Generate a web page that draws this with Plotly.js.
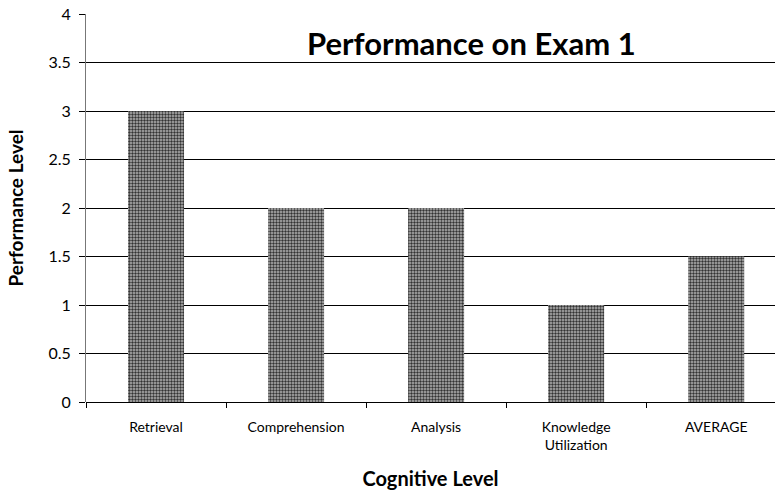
<!DOCTYPE html>
<html>
<head>
<meta charset="utf-8">
<script src="https://cdn.plot.ly/plotly-3.0.1.min.js"></script>
<style>html,body{margin:0;padding:0;background:#fff;}#chart{width:775px;height:493px;}</style>
</head>
<body>
<div id="chart"></div>
<script>
const categories = ["Retrieval", "Comprehension", "Analysis", "Knowledge<br>Utilization", "AVERAGE"];
const performance = [3, 2, 2, 1, 1.5];
const yTicks = [0, 0.5, 1, 1.5, 2, 2.5, 3, 3.5, 4];

const FONT = "Lato, 'DejaVu Sans', sans-serif";

Plotly.newPlot("chart", [{
  type: "bar",
  x: categories,
  y: performance,
  marker: {
    color: "#8c8c8c",
    line: {width: 0},
    pattern: {shape: ".", size: 3, solidity: 0.5, fgcolor: "#333", bgcolor: "#b4b4b4"}
  },
  hoverinfo: "skip"
}], {
  width: 775, height: 493,
  margin: {l: 86, r: 0, t: 14, b: 91},
  paper_bgcolor: "#fff", plot_bgcolor: "#fff",
  bargap: 0.6,
  showlegend: false,
  font: {family: FONT, color: "#000"},
  xaxis: {
    range: [-0.5, 4.42],
    tickson: "boundaries",
    ticks: "outside", ticklen: 5, tickcolor: "#000", tickwidth: 1,
    ticklabelstandoff: 15,
    showgrid: false,
    showline: false,
    zeroline: false,
    tickfont: {size: 14, family: FONT},
    title: {text: "<b>Cognitive Level</b>", font: {size: 20, family: FONT}, standoff: 19}
  },
  yaxis: {
    range: [0, 4],
    tickvals: yTicks,
    ticktext: yTicks.map(String),
    ticks: "outside", ticklen: 6, tickcolor: "#000",
    ticklabelstandoff: 5,
    showgrid: true, gridcolor: "#000", gridwidth: 1,
    showline: true, linecolor: "#777", linewidth: 1,
    zeroline: true, zerolinecolor: "#000", zerolinewidth: 1,
    tickfont: {size: 16, family: FONT},
    title: {text: "<b>Performance Level</b>", font: {size: 19, family: FONT}, standoff: 19}
  },
  annotations: [{
    text: "<b>Performance on Exam 1</b>",
    xref: "paper", yref: "paper",
    x: 0.56, y: 0.926, xanchor: "center", yanchor: "middle",
    showarrow: false,
    font: {size: 31, family: FONT, color: "#000"}
  }]
}, {staticPlot: true});
</script>
</body>
</html>
